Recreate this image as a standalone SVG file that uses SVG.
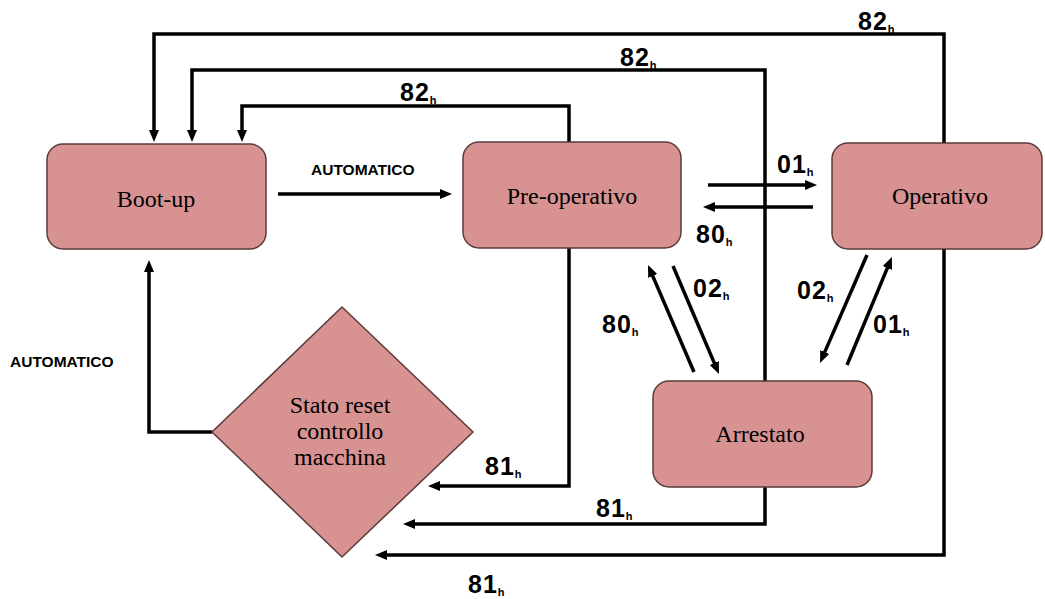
<svg xmlns="http://www.w3.org/2000/svg" width="1045" height="599" viewBox="0 0 1045 599">
<style>
.node{fill:#d89292;stroke:#5a3b3b;stroke-width:1.5}
.ntxt{font-family:"Liberation Serif",serif;font-size:24px;fill:#000;text-anchor:middle}
.conn{fill:none;stroke:#000;stroke-width:3.5;stroke-linejoin:miter}
.lbl{font-family:"Liberation Sans",Arial,sans-serif;font-weight:bold;font-size:25px;fill:#000;letter-spacing:1px}
.sub{font-size:11px;letter-spacing:0}
.auto{font-family:"Liberation Sans",Arial,sans-serif;font-weight:bold;font-size:15.5px;fill:#000}
</style>
<defs>
<marker id="arr" viewBox="0 0 12 10" markerUnits="userSpaceOnUse" markerWidth="12" markerHeight="10" refX="7" refY="5" orient="auto">
<path d="M0,0 L12,5 L0,10 z" fill="#000"/>
</marker>
</defs>
<g id="connectors">
<path class="conn" d="M944,143 V34 H154 V137" marker-end="url(#arr)"/>
<path class="conn" d="M765,381 V70 H192 V137" marker-end="url(#arr)"/>
<path class="conn" d="M569,142 V106 H242 V137" marker-end="url(#arr)"/>
<path class="conn" d="M278,194 H447" marker-end="url(#arr)"/>
<path class="conn" d="M708,185 H812" marker-end="url(#arr)"/>
<path class="conn" d="M813,207 H708" marker-end="url(#arr)"/>
<path class="conn" d="M569,248 V486 H433" marker-end="url(#arr)"/>
<path class="conn" d="M765,487 V524 H408" marker-end="url(#arr)"/>
<path class="conn" d="M944,249 V555 H380" marker-end="url(#arr)"/>
<path class="conn" d="M212,432 H149 V265" marker-end="url(#arr)"/>
<path class="conn" d="M694,372 L650,269.6" marker-end="url(#arr)"/>
<path class="conn" d="M673,266 L717,369.4" marker-end="url(#arr)"/>
<path class="conn" d="M867,255 L822,358.4" marker-end="url(#arr)"/>
<path class="conn" d="M847,365 L890,261.6" marker-end="url(#arr)"/>
<text class="lbl" x="858" y="30">82<tspan class="sub" dy="3">h</tspan></text>
<text class="lbl" x="620" y="66">82<tspan class="sub" dy="3">h</tspan></text>
<text class="lbl" x="400" y="101">82<tspan class="sub" dy="3">h</tspan></text>
<text class="lbl" x="777" y="173">01<tspan class="sub" dy="3">h</tspan></text>
<text class="lbl" x="696" y="243">80<tspan class="sub" dy="3">h</tspan></text>
<text class="lbl" x="693" y="297">02<tspan class="sub" dy="3">h</tspan></text>
<text class="lbl" x="797" y="299">02<tspan class="sub" dy="3">h</tspan></text>
<text class="lbl" x="602" y="333">80<tspan class="sub" dy="3">h</tspan></text>
<text class="lbl" x="873" y="333">01<tspan class="sub" dy="3">h</tspan></text>
<text class="lbl" x="485" y="475">81<tspan class="sub" dy="3">h</tspan></text>
<text class="lbl" x="596" y="517">81<tspan class="sub" dy="3">h</tspan></text>
<text class="lbl" x="468" y="593">81<tspan class="sub" dy="3">h</tspan></text>
<text class="auto" x="311" y="175">AUTOMATICO</text>
<text class="auto" x="10" y="367">AUTOMATICO</text>
</g>
<g id="bootup">
<rect class="node" x="47" y="144" width="219" height="105" rx="16"/>
<text class="ntxt" x="156" y="207">Boot-up</text>
</g>
<g id="preoperativo">
<rect class="node" x="463" y="142" width="218" height="106" rx="16"/>
<text class="ntxt" x="572" y="204">Pre-operativo</text>
</g>
<g id="operativo">
<rect class="node" x="832" y="143" width="210" height="106" rx="16"/>
<text class="ntxt" x="940" y="204">Operativo</text>
</g>
<g id="arrestato">
<rect class="node" x="653" y="381" width="219" height="106" rx="16"/>
<text class="ntxt" x="760" y="442">Arrestato</text>
</g>
<g id="reset">
<polygon class="node" points="342,307 473,432 342,557 212,432"/>
<text class="ntxt" x="340" y="413">Stato reset</text>
<text class="ntxt" x="340" y="439">controllo</text>
<text class="ntxt" x="340" y="465">macchina</text>
</g>
</svg>
